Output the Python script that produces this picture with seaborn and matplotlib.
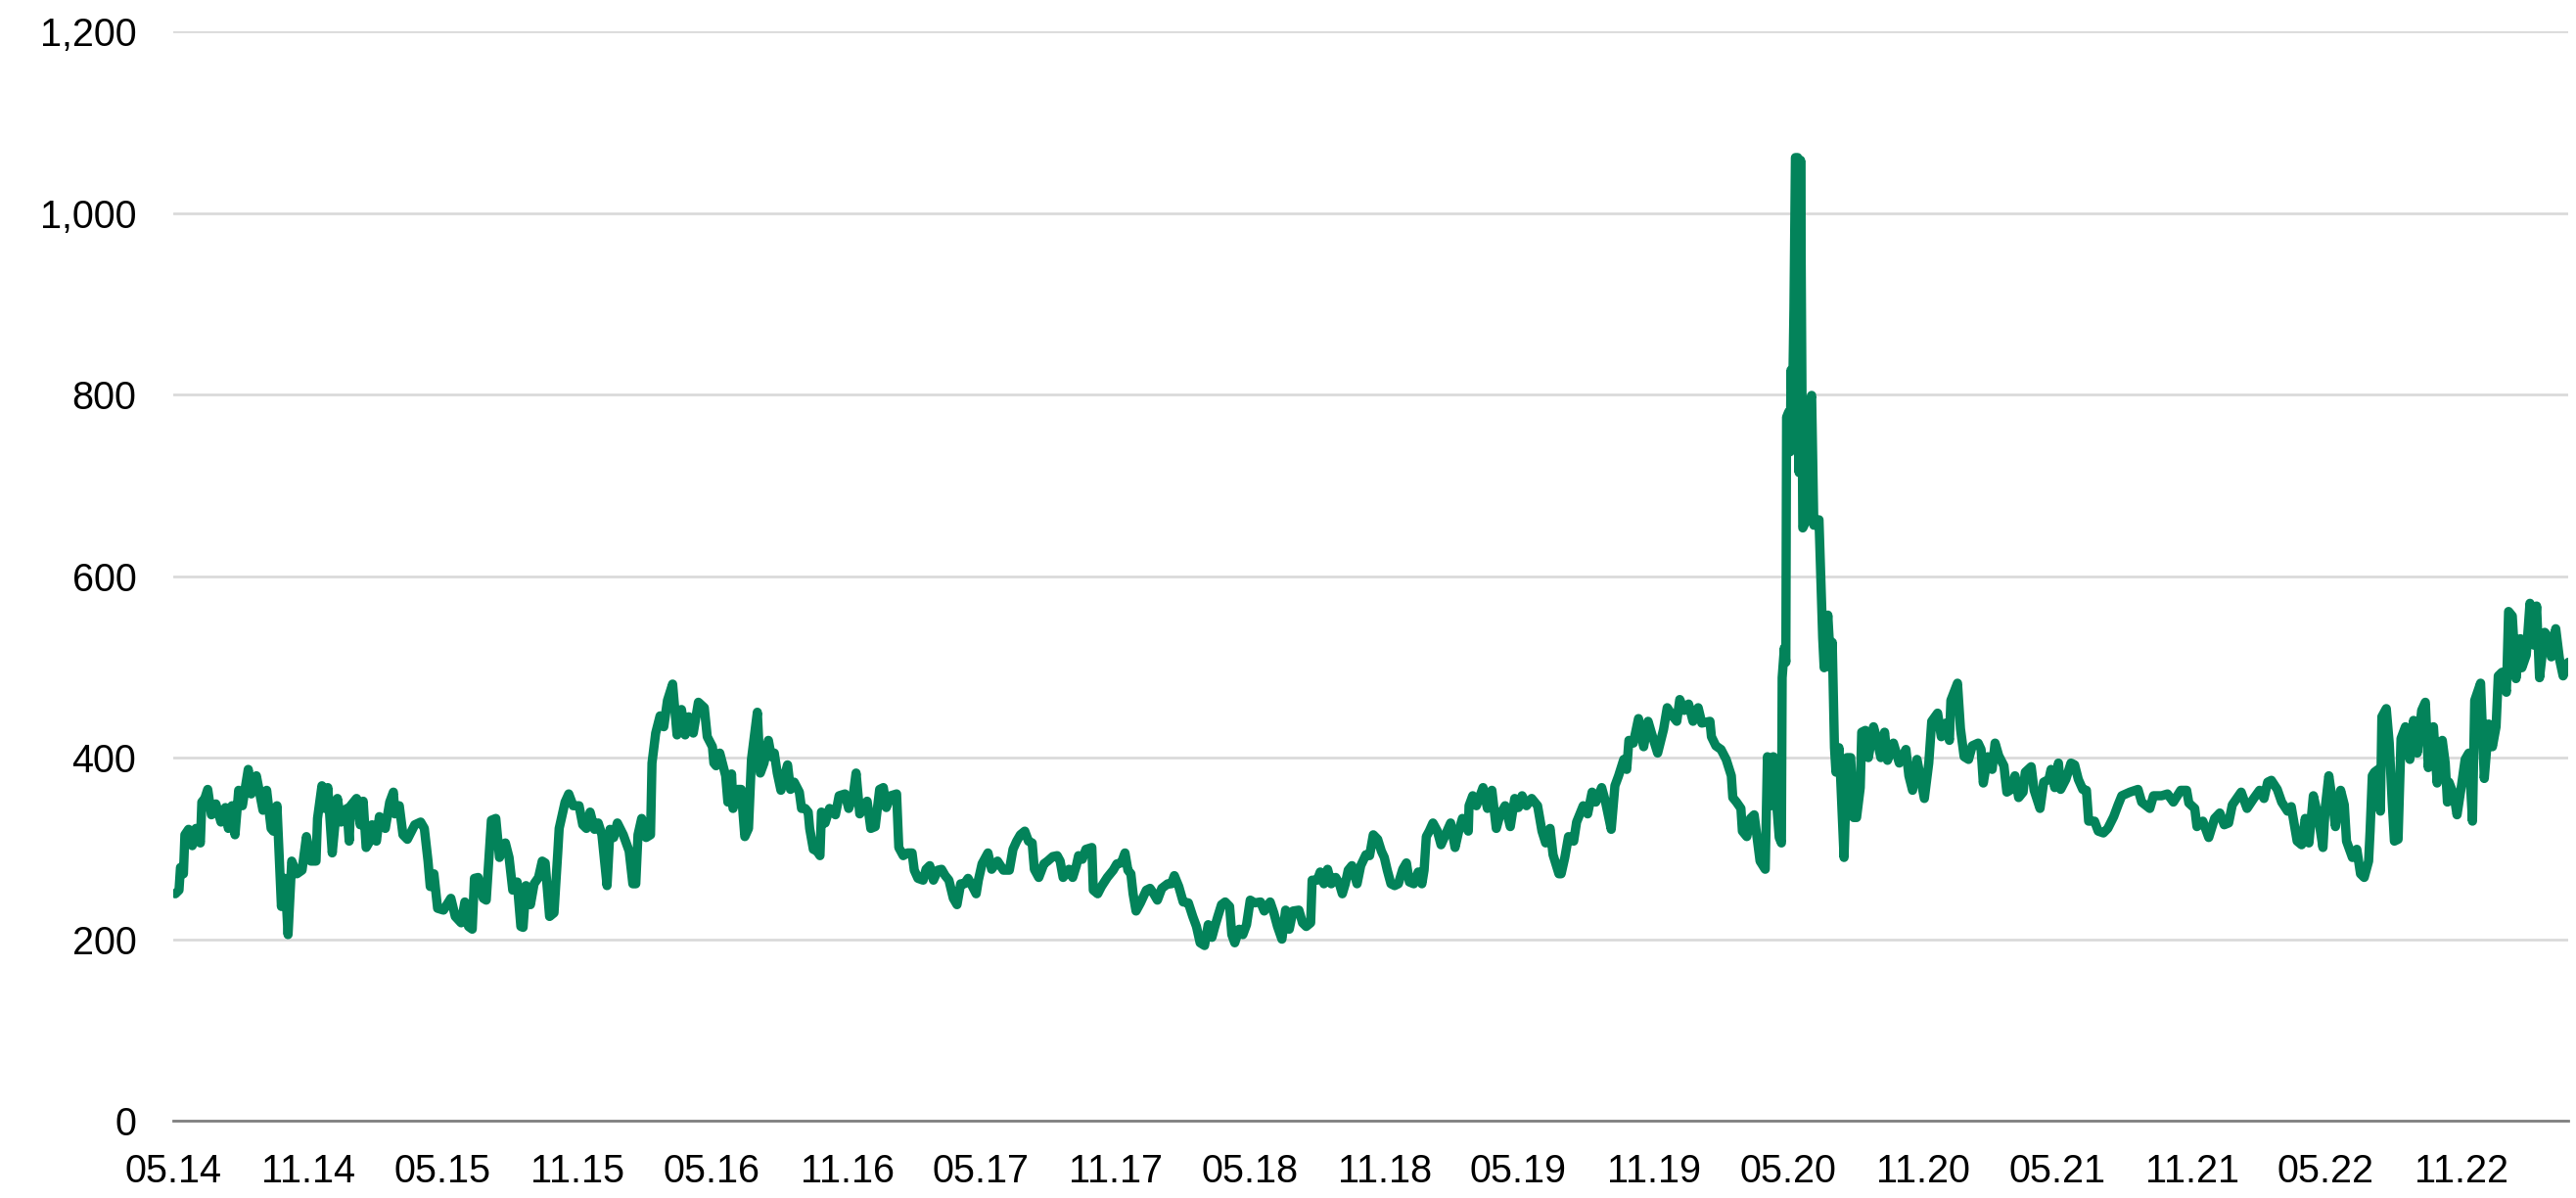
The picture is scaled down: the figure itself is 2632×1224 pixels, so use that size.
import matplotlib

matplotlib.use("Agg")
import matplotlib.dates as mdates
import matplotlib.pyplot as plt
import pandas as pd
import seaborn as sns
from matplotlib.ticker import FuncFormatter

# days counted from 1 May 2014
days = [
    3, 8, 10, 14, 16, 21, 26, 31, 37, 39, 43, 47, 52, 58, 65, 71, 75, 80, 84, 89,
    94, 102, 106, 113, 122, 127, 133, 136, 141, 147, 152, 156, 159, 161, 168, 175, 181, 187, 194, 196,
    202, 206, 210, 216, 223, 228, 236, 239, 241, 249, 254, 258, 262, 267, 270, 276, 280, 288, 294, 299,
    301, 307, 312, 318, 328, 336, 341, 346, 349, 354, 359, 367, 377, 383, 391, 396, 401, 406, 409, 414,
    421, 425, 432, 438, 443, 451, 456, 461, 467, 472, 475, 479, 485, 490, 496, 501, 505, 511, 517, 522,
    524, 532, 537, 543, 551, 556, 561, 566, 572, 577, 582, 589, 593, 598, 603, 611, 619, 624, 628, 631,
    636, 642, 648, 650, 655, 661, 666, 671, 678, 682, 684, 690, 695, 700, 706, 713, 721, 725, 732, 734,
    737, 742, 750, 753, 758, 760, 766, 771, 776, 781, 785, 793, 797, 802,
    808, 812, 816, 820, 825, 830, 834, 838, 843, 850, 853, 858, 862, 864, 869, 874, 878, 880, 885, 891,
    899, 904, 912, 917, 923, 927, 932, 937, 942, 947, 953, 959, 964, 968, 974, 982, 985, 991, 997, 1003,
    1006, 1011, 1018, 1022, 1027, 1032, 1038, 1043, 1048, 1053, 1059, 1064, 1069, 1074, 1079, 1085, 1090, 1093, 1098, 1106,
    1111, 1119, 1127, 1135, 1140, 1145, 1150, 1156, 1161, 1166, 1169, 1175, 1182, 1187, 1194, 1200, 1204, 1208, 1216, 1221,
    1226, 1229, 1234, 1239, 1247, 1249, 1255, 1260, 1268, 1276, 1281, 1287, 1292, 1296, 1300, 1303, 1307, 1313, 1321, 1326,
    1331, 1336, 1342, 1350, 1355, 1359, 1365, 1371, 1378, 1384, 1389, 1394, 1400, 1405, 1410, 1414, 1418, 1423, 1428, 1434,
    1437, 1441, 1447, 1452, 1457, 1462, 1468, 1476, 1481, 1489, 1494, 1499, 1505, 1510, 1515, 1520, 1528, 1533, 1538, 1544,
    1546, 1553, 1557, 1562, 1567, 1572, 1578, 1583, 1587, 1591, 1595, 1600, 1607, 1612,
    1619, 1624, 1629, 1635, 1640, 1644, 1648, 1653, 1658, 1663, 1669, 1674, 1678, 1684, 1690, 1695, 1698, 1701, 1705, 1710,
    1716, 1721, 1727, 1734, 1740, 1745, 1750, 1758, 1759, 1764, 1769, 1778, 1784, 1790, 1796, 1801, 1808, 1815, 1821, 1826,
    1831, 1837, 1844, 1852, 1858, 1863, 1869, 1873, 1881, 1884, 1889, 1894, 1901, 1905, 1914, 1920, 1926, 1931, 1939, 1944,
    1952, 1957, 1962, 1969, 1973, 1976, 1982, 1989, 1996, 2002, 2007, 2015, 2023, 2028, 2036, 2041, 2045, 2051, 2057, 2063,
    2070, 2075, 2086, 2088, 2094, 2101, 2108, 2115, 2117, 2122, 2128, 2130, 2136, 2141, 2146, 2154, 2161, 2164, 2170, 2172,
    2177, 2180,
    2183, 2184, 2187, 2189, 2190, 2193, 2195, 2196, 2198, 2200, 2202, 2205, 2207, 2209, 2212, 2216, 2219, 2224, 2227, 2234,
    2239, 2241, 2246, 2250, 2252, 2255, 2257, 2261, 2263, 2268, 2272, 2277, 2281, 2285, 2290, 2292, 2297, 2301, 2308, 2312,
    2318, 2323, 2327,
    2335, 2343, 2352, 2356, 2361, 2367, 2377, 2383, 2387, 2395, 2400, 2406, 2411, 2413, 2422, 2426,
    2431, 2437, 2442, 2450, 2454, 2457, 2463, 2469, 2473, 2478, 2485, 2489, 2495, 2500, 2505, 2511, 2514, 2522, 2526, 2534,
    2539, 2546, 2549, 2554, 2559, 2562, 2569, 2576, 2581, 2586, 2592, 2597, 2600, 2608, 2613, 2620, 2626, 2634, 2640, 2645,
    2656, 2667, 2672, 2683, 2688, 2699, 2707, 2715, 2725, 2733, 2736, 2744, 2747, 2755, 2763, 2771, 2778, 2784, 2790, 2795,
    2801, 2807, 2815, 2824, 2832, 2838, 2843, 2848, 2856, 2862, 2870, 2875, 2883, 2889, 2894, 2899, 2905, 2912, 2918, 2921,
    2926, 2931, 2935, 2942, 2947, 2950, 2958, 2964, 2969, 2974, 2980, 2982, 2985, 2988, 2993, 2996, 2998, 3004, 3008, 3012,
    3015, 3020, 3024, 3030, 3036, 3041, 3046, 3052, 3057, 3061, 3068, 3073, 3080, 3084, 3087, 3089, 3096, 3100, 3106, 3111,
    3116, 3121, 3124, 3132, 3137, 3143, 3148, 3153, 3156, 3161, 3167, 3170, 3175, 3180, 3186, 3188, 3194, 3199, 3204, 3208,
    3212, 3219, 3226, 3228, 3234, 3239, 3244, 3251,
]

values = [
    250, 254, 279, 272, 315, 321, 303, 322, 306, 351, 355, 365, 337, 349, 329, 345, 322, 347, 315, 364,
    347, 387, 360, 380, 342, 364, 322, 319, 347, 236, 267, 205, 254, 286, 272, 276, 313, 286, 286, 333,
    369, 344, 367, 295, 355, 329, 344, 308, 347, 355, 326, 352, 301, 308, 326, 308, 335, 322, 351, 362,
    338, 347, 315, 310, 326, 329, 322, 286, 258, 272, 234, 232, 245, 225, 218, 241, 214, 211, 267, 268,
    245, 243, 331, 333, 290, 306, 290, 254, 263, 214, 213, 259, 238, 261, 268, 286, 284, 225, 229, 294,
    322, 351, 360, 347, 347, 326, 322, 340, 321, 328, 315, 259, 321, 312, 328, 315, 297, 261, 261, 315,
    333, 312, 315, 394, 427, 446, 434, 463, 481, 443, 425, 453, 425, 445, 427, 461, 455, 423, 412, 394,
    391, 405, 380, 351, 382, 344, 365, 365, 313, 322, 398, 450, 383, 394,
    419, 401, 405, 383, 364, 380, 392, 365, 373, 362, 344, 344, 340, 322, 299, 297, 292, 340, 328, 344,
    337, 358, 360, 344, 358, 383, 338, 344, 352, 322, 324, 365, 367, 345, 358, 360, 301, 292, 295, 295,
    276, 267, 265, 277, 281, 265, 276, 277, 270, 265, 245, 238, 261, 261, 267, 258, 250, 265, 283, 295,
    277, 286, 276, 276, 299, 308, 315, 319, 308, 306, 277, 268, 283, 286, 291, 292, 286, 268, 277, 268,
    281, 292, 288, 299, 301, 254, 250, 258, 268, 276, 283, 284, 295, 276, 272, 250, 231, 240, 254, 256,
    250, 243, 256, 261, 261, 270, 258, 241, 240, 225, 214, 196, 193, 216, 202, 214, 225, 238, 241, 236,
    205, 196, 211, 205, 216, 243, 240, 241, 231, 241, 229, 214, 200, 232, 211, 231, 232, 218, 214, 218,
    265, 265, 274, 261, 277, 261, 268, 261, 250, 261, 276, 281, 261, 281,
    293, 292, 315, 310, 297, 290, 276, 261, 259, 261, 277, 284, 263, 261, 274, 261, 276, 313, 319, 328,
    319, 304, 315, 328, 301, 319, 333, 319, 347, 358, 347, 367, 344, 364, 322, 337, 347, 324, 355, 345,
    358, 347, 355, 347, 319, 306, 322, 293, 272, 272, 290, 313, 308, 329, 347, 338, 362, 351, 367, 352,
    321, 369, 380, 398, 387, 419, 416, 443, 412, 440, 426, 405, 431, 455, 445, 440, 464, 452, 459, 440,
    455, 438, 440, 423, 413, 409, 398, 380, 356, 351, 344, 319, 313, 333, 337, 286, 277, 401, 347, 401,
    344, 312,
    306, 488, 521, 505, 775, 781, 737, 827, 786, 896, 1061, 1061, 714, 1058, 653, 660, 786, 799, 656, 662,
    532, 499, 557, 499, 527, 411, 384, 411, 384, 290, 400, 400, 334, 334, 367, 428, 430, 400, 434, 422,
    400, 428, 397,
    416, 394, 409, 380, 364, 398, 355, 394, 440, 449, 423, 438, 419, 463, 482, 432,
    401, 398, 413, 416, 409, 372, 401, 387, 416, 402, 391, 362, 365, 380, 356, 362, 384, 390, 364, 344,
    373, 376, 387, 367, 394, 365, 376, 394, 392, 376, 365, 364, 330, 330, 319, 317, 322, 335, 348, 358,
    362, 365, 351, 344, 358, 358, 360, 351, 364, 364, 350, 344, 324, 330, 312, 333, 339, 326, 328, 348,
    355, 362, 344, 355, 364, 355, 373, 375, 365, 351, 341, 346, 308, 304, 333, 306, 358, 333, 301, 344,
    380, 351, 324, 364, 348, 308, 290, 299, 272, 268, 286, 319, 380, 384, 387, 341, 445, 454, 416, 351,
    308, 310, 421, 434, 398, 441, 405, 452, 461, 389, 434, 372, 419, 394, 351, 373, 358, 337, 369, 398,
    405, 330, 463, 482, 377, 437, 412, 434, 490, 494, 472, 561, 556, 487, 531, 499, 513, 570, 524, 567,
    488, 538, 531, 511, 542, 509, 490, 505,
]

start = pd.Timestamp("2014-05-01")
df = pd.DataFrame({
    "date": start + pd.to_timedelta(days, unit="D"),
    "value": values,
})

tick_dates = pd.date_range("2014-05-01", "2022-11-01", freq="6MS")
y_ticks = [0, 200, 400, 600, 800, 1000, 1200]

sns.set_theme(style="white")
plt.rcParams["font.family"] = ["Liberation Sans", "DejaVu Sans"]

fig = plt.figure(figsize=(26.32, 12.24), dpi=100)
ax = fig.add_axes([0.0672, 0.0645, 0.9298, 0.9093])

sns.lineplot(
    data=df,
    x="date",
    y="value",
    ax=ax,
    color="#03835A",
    linewidth=6.8,
    estimator=None,
    sort=False,
    solid_joinstyle="round",
    solid_capstyle="round",
)

ax.set_ylim(0, 1200)
ax.set_xlim(start, df["date"].iloc[-1])
ax.set_yticks(y_ticks)
ax.yaxis.set_major_formatter(FuncFormatter(lambda v, p: f"{int(v):,}"))
ax.set_xticks(tick_dates)
ax.xaxis.set_major_formatter(mdates.DateFormatter("%m.%y"))

# Light horizontal grid, no vertical grid
ax.yaxis.grid(True, color="#D9D9D9", linewidth=1.9)
ax.xaxis.grid(False)
ax.set_axisbelow(True)

for side in ["top", "right", "left"]:
    ax.spines[side].set_visible(False)
ax.spines["bottom"].set_color("#808080")
ax.spines["bottom"].set_linewidth(2.0)
ax.spines["bottom"].set_zorder(3)

ax.tick_params(axis="both", length=0, labelsize=28.5, colors="black")
ax.tick_params(axis="y", pad=27)
ax.tick_params(axis="x", pad=24)

ax.set_xlabel("")
ax.set_ylabel("")

fig.savefig("out.png", dpi=100)
